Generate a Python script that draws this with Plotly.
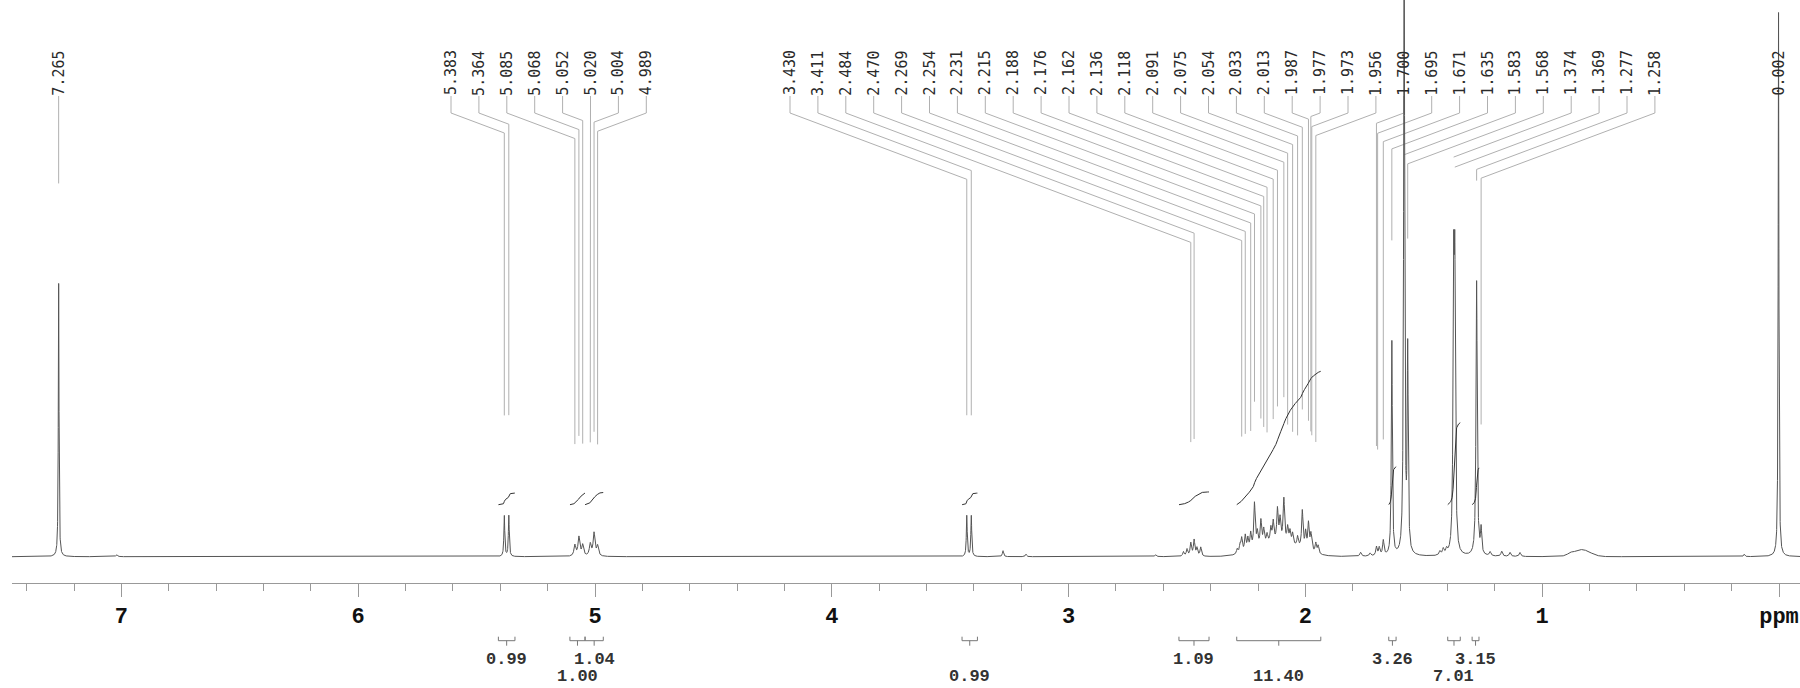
import numpy as np
import plotly.graph_objects as go

# ---------------- data ----------------
# narrow lines: chemical shift (ppm), amplitude (a.u.), half-width (ppm)
line_ppm = [7.265, 7.020, 5.383, 5.364, 5.085, 5.068, 5.052, 5.020, 5.004, 4.989,
            3.430, 3.411, 3.277, 3.180, 2.633,
            2.515, 2.500, 2.484, 2.470, 2.458, 2.442,
            2.288, 2.276, 2.269, 2.254, 2.243, 2.231, 2.215, 2.203, 2.188, 2.176,
            2.162, 2.146, 2.136, 2.118, 2.107, 2.091, 2.075, 2.065, 2.054, 2.033,
            2.013, 1.999, 1.987, 1.977, 1.973, 1.956, 1.946,
            1.767, 1.727, 1.700, 1.688, 1.671, 1.635, 1.583, 1.568,
            1.432, 1.418, 1.404, 1.374, 1.369, 1.277, 1.258,
            1.220, 1.171, 1.136, 1.094, 0.883, 0.147, 0.002]
line_amp = [274, 2, 41, 41, 11, 19, 11, 12, 23, 10,
            41, 41, 6, 2.5, 2,
            4.5, 7, 13, 16, 8, 9,
            5, 8, 14, 16, 12, 16, 45, 14, 25, 15,
            9, 14, 20, 32, 22, 43, 15, 12, 11, 10,
            38, 17, 27, 15, 5, 10, 8,
            4, 3, 9, 8, 15, 215, 650, 200,
            4, 6, 5, 255, 255, 275, 25,
            4, 5, 4, 4, 2, 2.5, 545]
line_hw = [0.0017, 0.004, 0.0022, 0.0022, 0.0045, 0.0045, 0.0045, 0.0045, 0.0045, 0.0045,
           0.0022, 0.0022, 0.003, 0.003, 0.004,
           0.0035, 0.0035, 0.0035, 0.0035, 0.0035, 0.0035,
           0.0035, 0.0035, 0.0035, 0.0035, 0.0035, 0.0035, 0.0035, 0.0035, 0.0035, 0.0035,
           0.0035, 0.0035, 0.0035, 0.0035, 0.0035, 0.0035, 0.0035, 0.0035, 0.0035, 0.0035,
           0.0035, 0.0035, 0.0035, 0.0035, 0.0035, 0.0035, 0.0035,
           0.004, 0.004, 0.0035, 0.0035, 0.0035, 0.0025, 0.0025, 0.0025,
           0.004, 0.004, 0.004, 0.003, 0.003, 0.003, 0.003,
           0.004, 0.004, 0.004, 0.004, 0.01, 0.003, 0.0018]

# broad humps: centre (ppm), height, sigma (ppm)
hump_ppm = [2.115, 0.833]
hump_height = [14, 7]
hump_sigma = [0.085, 0.035]

# peak-pick labels
peak_labels = ["7.265",
               "5.383", "5.364", "5.085", "5.068", "5.052", "5.020", "5.004", "4.989",
               "3.430", "3.411", "2.484", "2.470", "2.269", "2.254", "2.231", "2.215",
               "2.188", "2.176", "2.162", "2.136", "2.118", "2.091", "2.075", "2.054",
               "2.033", "2.013", "1.987", "1.977", "1.973", "1.956", "1.700", "1.695",
               "1.671", "1.635", "1.583", "1.568", "1.374", "1.369", "1.277", "1.258",
               "0.002"]
# label group: 0 = own position, 1 = 5 ppm block, 2 = 3.4-1.2 ppm block
label_group = [0] + [1] * 8 + [2] * 32 + [0]

# integrals
int_start = [5.408, 5.106, 5.042, 3.450, 2.534, 2.290, 1.648, 1.399, 1.296]
int_end = [5.338, 5.042, 4.965, 3.385, 2.407, 1.935, 1.617, 1.346, 1.267]
int_value = ["0.99", "1.00", "1.04", "0.99", "1.09", "11.40", "3.26", "7.01", "3.15"]
int_row = [1, 2, 1, 2, 1, 2, 1, 2, 1]

tick_vals = [7, 6, 5, 4, 3, 2, 1, 0]
tick_text = ["7", "6", "5", "4", "3", "2", "1", "ppm"]

# ---------------- geometry (pixel layout helpers) ----------------
W, H = 1800, 688
ZERO_PX = 1779.0      # x pixel of 0 ppm
PX_PER_PPM = 236.8
LEFT_PX = 12
BASE_PX = 556.7       # y pixel of the spectrum baseline
AXIS_PX = 582.7

def ppm_at(px):
    return (ZERO_PX - px) / PX_PER_PPM

def yv(px):
    return BASE_PX - px

x_left, x_right = ppm_at(LEFT_PX), ppm_at(W)

# ---------------- spectrum ----------------
x = np.linspace(x_left, x_right, 20000)
y = np.zeros_like(x)
for p, a, w in zip(line_ppm, line_amp, line_hw):
    y += a / (1 + ((x - p) / w) ** 2)
for p, a, s in zip(hump_ppm, hump_height, hump_sigma):
    y += a * np.exp(-0.5 * ((x - p) / s) ** 2)

fig = go.Figure()

# ---------------- leader lines + labels ----------------
PITCH = 27.9
GROUP_START = {1: 451.0, 2: 790.0}
TEXT_BOTTOM, KNEE, SLOPE, GAP = 96.0, 113.0, 0.375, 100.0
lx, ly = [], []
annotations = []
counters = {1: 0, 2: 0}
for lab, g in zip(peak_labels, label_group):
    p = float(lab)
    tx = ZERO_PX - PX_PER_PPM * p
    if g == 0:
        lab_px = tx
    else:
        lab_px = GROUP_START[g] + PITCH * counters[g]
        counters[g] += 1
    m = np.abs(x - p) < 0.002
    top_px = BASE_PX - y[m].max()
    diag_px = KNEE + SLOPE * abs(lab_px - tx)
    end_px = max(diag_px, top_px - GAP)
    lx += [ppm_at(lab_px), ppm_at(lab_px), p, p, None]
    ly += [yv(TEXT_BOTTOM), yv(KNEE), yv(diag_px), yv(end_px), None]
    annotations.append(dict(x=ppm_at(lab_px), y=yv(73), text=lab, textangle=-90,
                            showarrow=False, xanchor="center", yanchor="middle",
                            font=dict(family="DejaVu Sans Mono", size=15, color="#2a2a2a")))

fig.add_trace(go.Scatter(x=lx, y=ly, mode="lines", line=dict(color="#b0b0b0", width=1),
                         hoverinfo="skip", showlegend=False))

fig.add_trace(go.Scatter(x=x, y=y, mode="lines", line=dict(color="#555", width=1),
                         showlegend=False))

# ---------------- integrals ----------------
INT_BASE = 52.0
INT_SCALE = 11.7
bx, by = [], []
for s, e, v, r in zip(int_start, int_end, int_value, int_row):
    m = (x <= s) & (x >= e)
    xs = x[m]
    cs = np.cumsum(y[m])
    cs = cs / cs[-1] * float(v) * INT_SCALE + INT_BASE
    fig.add_trace(go.Scatter(x=xs, y=cs, mode="lines", line=dict(color="#333", width=1),
                             hoverinfo="skip", showlegend=False))
    mid = (s + e) / 2
    bx += [s, s, e, e, None, mid, mid, None]
    by += [yv(636.7), yv(640.7), yv(640.7), yv(636.7), None, yv(640.7), yv(645.7), None]
    annotations.append(dict(x=mid, y=yv(659.3 if r == 1 else 676.7), text=v, showarrow=False,
                            xanchor="center", yanchor="middle",
                            font=dict(family="Liberation Mono", size=17, color="#333",
                                      weight="bold")))
fig.add_trace(go.Scatter(x=bx, y=by, mode="lines", line=dict(color="#777", width=1),
                         hoverinfo="skip", showlegend=False))

minor_vals = [round(v, 1) for v in np.arange(0, 7.5, 0.2) if abs(v - round(v)) > 1e-6]

fig.update_layout(
    width=W, height=H,
    margin=dict(l=LEFT_PX, r=0, t=0, b=0),
    paper_bgcolor="white", plot_bgcolor="white",
    showlegend=False,
    annotations=annotations,
    xaxis=dict(range=[x_left, x_right], anchor="free", position=(H - AXIS_PX) / H,
               showgrid=False, zeroline=False, showline=True, linecolor="#999", linewidth=1,
               tickmode="array", tickvals=tick_vals, ticktext=tick_text,
               ticks="outside", ticklen=13, tickcolor="#999", tickwidth=1,
               tickfont=dict(family="Liberation Mono", size=22, color="#111", weight="bold"),
               minor=dict(tickmode="array", tickvals=minor_vals, ticks="outside",
                          ticklen=7, tickcolor="#999", showgrid=False)),
    yaxis=dict(range=[yv(H), yv(0)], visible=False, showgrid=False, zeroline=False),
)

fig.write_html("out.html", config={"displayModeBar": False},
               post_script="document.body.style.margin='0';document.body.style.overflow='hidden';")
